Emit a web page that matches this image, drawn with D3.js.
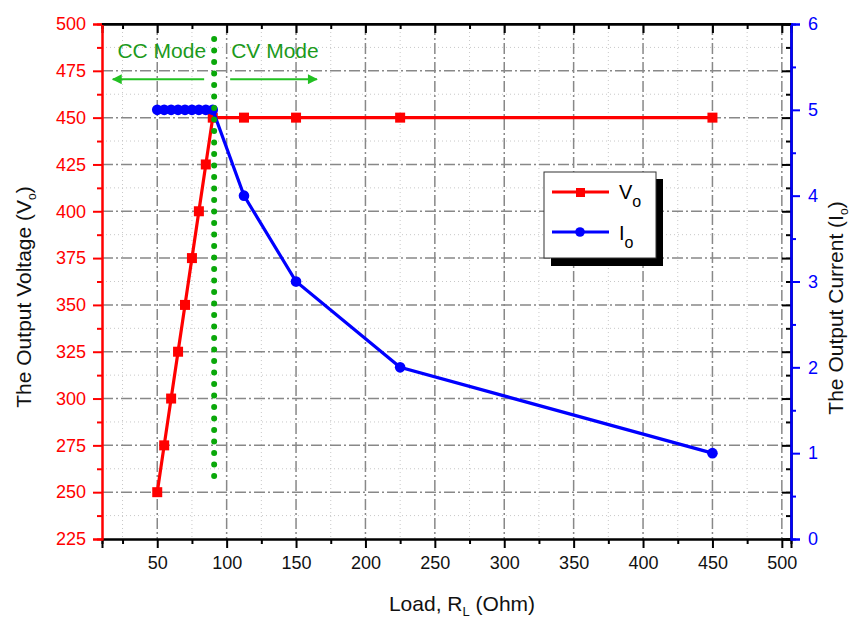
<!DOCTYPE html>
<html>
<head>
<meta charset="utf-8">
<script src="https://cdn.jsdelivr.net/npm/d3@7"></script>
<style>
	html,body	{ margin:0; padding:0; background:#fff; }
	svg text	{ font-family:"Liberation Sans", Arial, sans-serif; }
</style>
</head>
<body>
<svg id="chart" width="854" height="620"></svg>
<script>

// load (Ohm) and the two measured outputs
var load		= [50, 55, 60, 65, 70, 75, 80, 85, 90, 112.5, 150, 225, 450],
		vOut		= [250, 275, 300, 325, 350, 375, 400, 425, 450, 450, 450, 450, 450],
		iOut		= [5, 5, 5, 5, 5, 5, 5, 5, 5, 4, 3, 2, 1];

var modeEdge	= 91;

var xTicks		= [50, 100, 150, 200, 250, 300, 350, 400, 450, 500],
		xMinor		= [25, 75, 125, 175, 225, 275, 325, 375, 425, 475],
		vTicks		= [225, 250, 275, 300, 325, 350, 375, 400, 425, 450, 475, 500],
		vMinor		= [237.5, 262.5, 287.5, 312.5, 337.5, 362.5, 387.5, 412.5, 437.5, 462.5, 487.5],
		iTicks		= [0, 1, 2, 3, 4, 5, 6],
		iMinor		= [0.5, 1.5, 2.5, 3.5, 4.5, 5.5];

var RED = '#ff0000', BLUE = '#0000ff';


//------------------------------------------------------------------
//
//------------------------------------------------------------------
function drawChart()	{

	var L = 102, R = 791, T = 24, B = 539;

	var svg = d3.select('#chart');

	var x		= d3.scaleLinear().domain([10.2, 506.6]).range([L, R]),
			yV	= d3.scaleLinear().domain([225, 500]).range([B, T]),
			yI	= d3.scaleLinear().domain([0, 6]).range([B, T]);

	// grid
	svg.append('g').attr('class','grid')
		.call(sel=>{

			sel.selectAll('.gx-minor').data(xMinor).enter()
				.append('line')
					.attr('x1',d=>x(d)).attr('x2',d=>x(d)).attr('y1',T).attr('y2',B)
					.attr('stroke','#c8c8c8').attr('stroke-dasharray','1,3');

			sel.selectAll('.gy-minor').data(vMinor).enter()
				.append('line')
					.attr('y1',d=>yV(d)).attr('y2',d=>yV(d)).attr('x1',L).attr('x2',R)
					.attr('stroke','#c8c8c8').attr('stroke-dasharray','1,3');

			sel.selectAll('.gx').data(xTicks).enter()
				.append('line')
					.attr('x1',d=>x(d)).attr('x2',d=>x(d)).attr('y1',T).attr('y2',B)
					.attr('stroke','#888').attr('stroke-width',1.5).attr('stroke-dasharray','11,3,2,3');

			sel.selectAll('.gy').data(vTicks.slice(1, -1)).enter()
				.append('line')
					.attr('y1',d=>yV(d)).attr('y2',d=>yV(d)).attr('x1',L).attr('x2',R)
					.attr('stroke','#888').attr('stroke-width',1.5).attr('stroke-dasharray','11,3,2,3');

		});

	// frame ticks (top + right, black, inward)
	svg.append('g').attr('transform','translate(0,'+T+')')
		.call(d3.axisTop(x).tickValues(xTicks).tickSize(-9).tickFormat(''));
	svg.append('g').attr('transform','translate(0,'+T+')')
		.call(d3.axisTop(x).tickValues(xMinor).tickSize(-5).tickFormat(''));
	svg.append('g').attr('transform','translate('+R+',0)')
		.call(d3.axisRight(yV).tickValues(vTicks).tickSize(-9).tickFormat(''));
	svg.append('g').attr('transform','translate('+R+',0)')
		.call(d3.axisRight(yV).tickValues(vMinor).tickSize(-5).tickFormat(''));

	// bottom axis
	svg.append('g').attr('class','axis-x').attr('transform','translate(0,'+B+')')
		.call(d3.axisBottom(x).tickValues(xTicks).tickSize(9).tickPadding(8));
	svg.append('g').attr('transform','translate(0,'+B+')')
		.call(d3.axisBottom(x).tickValues(xMinor).tickSize(5).tickFormat(''));

	// left axis (voltage)
	svg.append('g').attr('class','axis-v').attr('transform','translate('+L+',0)')
		.call(d3.axisLeft(yV).tickValues(vTicks).tickSize(9).tickPadding(7));
	svg.append('g').attr('class','axis-v').attr('transform','translate('+L+',0)')
		.call(d3.axisLeft(yV).tickValues(vMinor).tickSize(5).tickFormat(''));

	// right axis (current)
	svg.append('g').attr('class','axis-i').attr('transform','translate('+R+',0)')
		.call(d3.axisRight(yI).tickValues(iTicks).tickSize(9).tickPadding(8).tickFormat(d3.format('d')));
	svg.append('g').attr('class','axis-i').attr('transform','translate('+R+',0)')
		.call(d3.axisRight(yI).tickValues(iMinor).tickSize(5).tickFormat(''));

	svg.selectAll('.domain').attr('stroke','#000').attr('stroke-width',2);
	svg.selectAll('.tick line').attr('stroke','#000').attr('stroke-width',2);
	svg.selectAll('.axis-v .domain, .axis-v .tick line').attr('stroke',RED);
	svg.selectAll('.axis-i .domain, .axis-i .tick line').attr('stroke',BLUE);
	svg.selectAll('.tick text').attr('font-size',18).attr('font-family','"Liberation Sans", Arial, sans-serif');
	svg.selectAll('.axis-x .tick text').attr('fill','#111');
	svg.selectAll('.axis-v .tick text').attr('fill',RED);
	svg.selectAll('.axis-i .tick text').attr('fill',BLUE);

	// top frame line
	svg.append('line').attr('x1',L).attr('x2',R).attr('y1',T).attr('y2',T).attr('stroke','#000').attr('stroke-width',2);

	var pts = load.map((d,i)=>({ r:d, v:vOut[i], i:iOut[i] }));

	// voltage series
	svg.append('path').datum(pts)
		.attr('fill','none').attr('stroke',RED).attr('stroke-width',3.2)
		.attr('d', d3.line().x(d=>x(d.r)).y(d=>yV(d.v)));
	svg.selectAll('.sq').data(pts).enter()
		.append('rect')
			.attr('x',d=>x(d.r)-5).attr('y',d=>yV(d.v)-5)
			.attr('width',10).attr('height',10).attr('fill',RED);

	// current series
	svg.append('path').datum(pts)
		.attr('fill','none').attr('stroke',BLUE).attr('stroke-width',3.2)
		.attr('d', d3.line().x(d=>x(d.r)).y(d=>yI(d.i)));
	svg.selectAll('.dot').data(pts).enter()
		.append('circle')
			.attr('cx',d=>x(d.r)).attr('cy',d=>yI(d.i))
			.attr('r',5.3).attr('fill',BLUE);

	// mode boundary
	svg.append('line')
		.attr('x1',x(modeEdge)).attr('x2',x(modeEdge))
		.attr('y1',yV(492)).attr('y2',yV(258))
		.attr('stroke','#0aa80a').attr('stroke-width',6)
		.attr('stroke-linecap','round').attr('stroke-dasharray','0,11.5');

	svg.append('text').text('CC Mode')
		.attr('x',x(modeEdge)-8).attr('y',yV(482)).attr('text-anchor','end')
		.attr('font-size',21).attr('fill','#1c9a1c');
	svg.append('text').text('CV Mode')
		.attr('x',x(modeEdge)+17).attr('y',yV(482)).attr('text-anchor','start')
		.attr('font-size',21).attr('fill','#1c9a1c');

	var defs = svg.append('defs');
	defs.append('marker').attr('id','ah')
		.attr('viewBox','0 0 10 10').attr('refX',9).attr('refY',5)
		.attr('markerWidth',5).attr('markerHeight',4.5).attr('orient','auto')
		.append('path').attr('d','M0,0 L10,5 L0,10 Z').attr('fill','#22c022');

	[[x(modeEdge)-10, x(18)], [x(modeEdge)+16, x(165)]].forEach(a=>{
		svg.append('line')
			.attr('x1',a[0]).attr('x2',a[1]).attr('y1',yV(470.5)).attr('y2',yV(470.5))
			.attr('stroke','#22c022').attr('stroke-width',2.2)
			.attr('marker-end','url(#ah)');
	});

	// legend
	svg.append('g').attr('class','legend')
		.call(sel=>{
			sel.append('rect').attr('x',551).attr('y',179).attr('width',112).attr('height',87).attr('fill','#000');
			sel.append('rect').attr('x',544).attr('y',172).attr('width',112).attr('height',86)
				.attr('fill','#fff').attr('stroke','#333').attr('stroke-width',1);

			sel.append('line').attr('x1',552).attr('x2',609).attr('y1',192).attr('y2',192).attr('stroke',RED).attr('stroke-width',3);
			sel.append('rect').attr('x',576).attr('y',188).attr('width',9).attr('height',9).attr('fill',RED);
			sel.append('line').attr('x1',552).attr('x2',609).attr('y1',232).attr('y2',232).attr('stroke',BLUE).attr('stroke-width',3);
			sel.append('circle').attr('cx',580).attr('cy',232).attr('r',4.8).attr('fill',BLUE);

			var t1 = sel.append('text').attr('x',619).attr('y',199).attr('font-size',20).attr('fill','#000');
			t1.append('tspan').text('V');
			t1.append('tspan').text('o').attr('font-size',16).attr('dy',8);
			var t2 = sel.append('text').attr('x',619).attr('y',240).attr('font-size',20).attr('fill','#000');
			t2.append('tspan').text('I');
			t2.append('tspan').text('o').attr('font-size',16).attr('dy',8);
		});

	// axis titles
	var ty = svg.append('text').attr('transform','translate(31,297) rotate(-90)')
		.attr('text-anchor','middle').attr('font-size',21).attr('fill','#111');
	ty.append('tspan').text('The Output Voltage (V');
	ty.append('tspan').text('o').attr('font-size',12).attr('dy',5);
	ty.append('tspan').text(')').attr('dy',-5);

	var ti = svg.append('text').attr('transform','translate(843,308) rotate(-90)')
		.attr('text-anchor','middle').attr('font-size',21).attr('fill','#111');
	ti.append('tspan').text('The Output Current (I');
	ti.append('tspan').text('o').attr('font-size',12).attr('dy',5);
	ti.append('tspan').text(')').attr('dy',-5);

	var tx = svg.append('text').attr('x',462).attr('y',611)
		.attr('text-anchor','middle').attr('font-size',21).attr('fill','#111');
	tx.append('tspan').text('Load, R');
	tx.append('tspan').text('L').attr('font-size',13).attr('dy',5);
	tx.append('tspan').text(' (Ohm)').attr('dy',-5);

}

drawChart();

</script>
</body>
</html>
